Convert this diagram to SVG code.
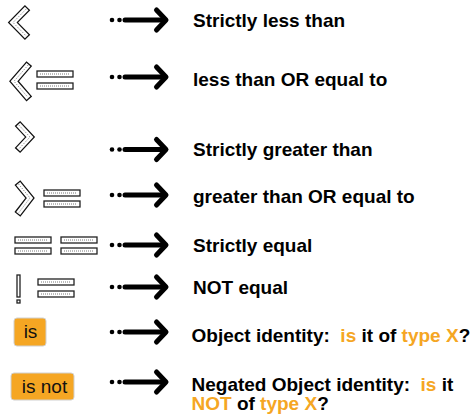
<svg xmlns="http://www.w3.org/2000/svg" width="472" height="416" viewBox="0 0 472 416">
<style>
  .co{fill:none;stroke:#111;stroke-width:7.5;stroke-linejoin:miter;stroke-linecap:butt}
  .ci{fill:none;stroke:#fff;stroke-width:5;stroke-linejoin:miter;stroke-linecap:butt}
  .cd{fill:none;stroke:#777;stroke-width:1;stroke-dasharray:1 1.5}
  .bar{fill:#fff;stroke:#222;stroke-width:1.3}
  .bd{stroke:#777;stroke-width:1;stroke-dasharray:1 1}
  .lbl{font-family:"Liberation Sans",Arial,sans-serif;font-weight:bold;font-size:19px;fill:#000}
  .or{fill:#F5A623}
  .btn{fill:#F5A623;stroke:#d0d0d0;stroke-width:1}
  .bt{font-family:"Liberation Sans",Arial,sans-serif;font-size:19px;fill:#111;text-anchor:middle}
  .shaft{stroke:#000;stroke-width:5;stroke-linecap:round}
  .head{fill:none;stroke:#000;stroke-width:5;stroke-linecap:round;stroke-linejoin:round}
</style>
<defs>
  <g id="arrow">
    <circle cx="112" cy="0" r="2.3" fill="#000"/>
    <circle cx="119.5" cy="0" r="2.3" fill="#000"/>
    <line class="shaft" x1="125" y1="0" x2="164" y2="0"/>
    <polyline class="head" points="156.5,-10 166,0 156.5,10"/>
  </g>
  <g id="bar">
    <rect class="bar" x="0" y="0" width="36" height="6"/>
    <line class="bd" x1="3" y1="3" x2="33" y2="3"/>
  </g>
</defs>
<rect width="472" height="416" fill="#fff"/>

<g id="connectors">
  <use href="#arrow" y="20"/>
  <use href="#arrow" y="77"/>
  <use href="#arrow" y="149.5"/>
  <use href="#arrow" y="195"/>
  <use href="#arrow" y="245"/>
  <use href="#arrow" y="287"/>
  <use href="#arrow" y="332"/>
  <use href="#arrow" y="382"/>
</g>

<g id="sym-lt">
  <path class="co" d="M27.6,7.6 L13,22.5 L27.6,37.4"/>
  <path class="ci" d="M26.7,8.5 L13,22.5 L26.7,36.5"/>
  <path class="cd" d="M26.2,9 L13,22.5 L26.2,36"/>
</g>
<g id="sym-le">
  <path class="co" d="M29.3,63.6 L14,81.3 L29.3,99"/>
  <path class="ci" d="M28.45,64.6 L14,81.3 L28.45,98"/>
  <path class="cd" d="M28,65.2 L14,81.3 L28,97.4"/>
  <use href="#bar" x="37" y="71"/>
  <use href="#bar" x="37" y="83"/>
</g>
<g id="sym-gt">
  <path class="co" d="M17.4,123.5 L30,137 L17.4,150.5"/>
  <path class="ci" d="M18.3,124.45 L30,137 L18.3,149.55"/>
  <path class="cd" d="M18.8,125 L30,137 L18.8,149"/>
</g>
<g id="sym-ge">
  <path class="co" d="M17.4,182.6 L30,198 L17.4,214.4"/>
  <path class="ci" d="M18.2,183.6 L30,198 L18.2,213.4"/>
  <path class="cd" d="M18.7,184.2 L30,198 L18.7,212.8"/>
  <use href="#bar" x="44" y="190"/>
  <use href="#bar" x="44" y="201"/>
</g>
<g id="sym-eq">
  <use href="#bar" x="15" y="237"/>
  <use href="#bar" x="15" y="248"/>
  <use href="#bar" x="61" y="237"/>
  <use href="#bar" x="61" y="248"/>
</g>
<g id="sym-ne">
  <rect class="bar" x="17" y="275" width="3" height="22"/>
  <rect class="bar" x="17" y="300" width="3" height="3"/>
  <use href="#bar" x="38" y="279"/>
  <use href="#bar" x="38" y="291"/>
</g>
<g id="sym-is">
  <rect class="btn" x="14" y="318" width="32" height="28" rx="3"/>
  <text class="bt" x="30.5" y="338">is</text>
</g>
<g id="sym-isnot">
  <rect class="btn" x="11" y="373" width="63" height="27" rx="3"/>
  <text class="bt" x="44.5" y="393">is not</text>
</g>

<g id="label-lt"><text class="lbl" x="193" y="27">Strictly less than</text></g>
<g id="label-le"><text class="lbl" x="193" y="86">less than OR equal to</text></g>
<g id="label-gt"><text class="lbl" x="193" y="155.5">Strictly greater than</text></g>
<g id="label-ge"><text class="lbl" x="193" y="202.5">greater than OR equal to</text></g>
<g id="label-eq"><text class="lbl" x="193" y="251.5">Strictly equal</text></g>
<g id="label-ne"><text class="lbl" x="193" y="294">NOT equal</text></g>
<g id="label-is"><text class="lbl" x="191.5" y="341.5" xml:space="preserve">Object identity:  <tspan class="or">is</tspan> it of <tspan class="or">type X</tspan>?</text></g>
<g id="label-isnot">
  <text class="lbl" x="191.5" y="390.5" xml:space="preserve">Negated Object identity:  <tspan class="or">is</tspan> it</text>
  <text class="lbl" x="191.5" y="409.5" xml:space="preserve"><tspan class="or">NOT</tspan> of <tspan class="or">type X</tspan>?</text>
</g>
</svg>
